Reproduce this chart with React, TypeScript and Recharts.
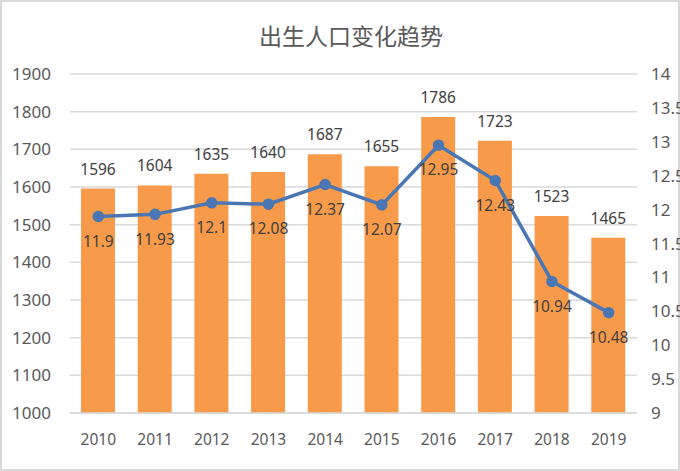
import React from "react";
import {
  ComposedChart,
  Bar,
  Line,
  XAxis,
  YAxis,
  CartesianGrid,
  LabelList,
} from "recharts";

const years = ["2010", "2011", "2012", "2013", "2014", "2015", "2016", "2017", "2018", "2019"];
const births = [1596, 1604, 1635, 1640, 1687, 1655, 1786, 1723, 1523, 1465];
const rates = [11.9, 11.93, 12.1, 12.08, 12.37, 12.07, 12.95, 12.43, 10.94, 10.48];
const leftTicks = [1000, 1100, 1200, 1300, 1400, 1500, 1600, 1700, 1800, 1900];
const rightTicks = [9, 9.5, 10, 10.5, 11, 11.5, 12, 12.5, 13, 13.5, 14];

const data = years.map((y, i) => ({ year: y, births: births[i], rate: rates[i] }));

const font = "'Noto Sans', 'Noto Sans CJK SC', sans-serif";
const textColor = "#595959";

const RateLabel = (props: any) => {
  const { x, y, value } = props;
  return (
    <text x={x} y={y + 26} textAnchor="middle" dominantBaseline="middle" fill="#404040" fontSize={15.5} fontFamily={font}>
      {value}
    </text>
  );
};

const App = () => {
  return (
    <div style={{ position: "fixed", left: 0, top: 0, width: 680, height: 471, background: "#fff", boxSizing: "border-box", border: "2px solid #d9d9d9" }}>
      <div style={{ position: "absolute", left: 0, top: 16, width: 698, textAlign: "center", fontSize: 23, color: textColor, fontFamily: "'Noto Sans CJK SC', sans-serif" }}>
        出生人口变化趋势
      </div>
      <div style={{ position: "absolute", left: -2, top: -2 }}>
        <ComposedChart width={680} height={471} data={data} margin={{ top: 74, right: 0, left: 0, bottom: 28 }}>
          <CartesianGrid vertical={false} stroke="#d9d9d9" strokeWidth={1.5} yAxisId="left" />
          <XAxis
            dataKey="year"
            tickLine={false}
            axisLine={{ stroke: "#d9d9d9", strokeWidth: 1.5 }}
            tickMargin={15}
            height={30}
            tick={{ fill: textColor, fontSize: 15.5, fontFamily: font }}
          />
          <YAxis
            yAxisId="left"
            domain={[1000, 1900]}
            ticks={leftTicks}
            width={70}
            tickLine={false}
            axisLine={false}
            tickMargin={13}
            tick={{ fill: textColor, fontSize: 17, fontFamily: font }}
          />
          <YAxis
            yAxisId="right"
            orientation="right"
            domain={[9, 14]}
            ticks={rightTicks}
            width={43}
            tickLine={false}
            axisLine={false}
            tickMargin={8}
            tick={{ fill: textColor, fontSize: 17, fontFamily: font, textAnchor: "start" }}
          />
          <Bar yAxisId="left" dataKey="births" fill="#F79A4A" barSize={34} isAnimationActive={false}>
            <LabelList dataKey="births" position="top" offset={14} fill="#404040" fontSize={15.5} fontFamily={font} />
          </Bar>
          <Line
            yAxisId="right"
            dataKey="rate"
            stroke="#4A77B4"
            strokeWidth={3.5}
            dot={{ r: 4, fill: "#4A77B4", stroke: "#4A77B4" }}
            type="linear"
            isAnimationActive={false}
          >
            <LabelList dataKey="rate" content={RateLabel} />
          </Line>
        </ComposedChart>
      </div>
    </div>
  );
};

export default App;
